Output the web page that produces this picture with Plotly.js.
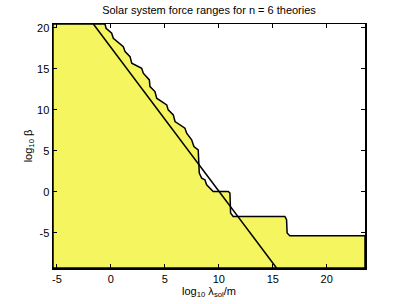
<!DOCTYPE html>
<html>
<head>
<meta charset="utf-8">
<script src="https://cdn.plot.ly/plotly-3.0.1.min.js"></script>
<style>html,body{margin:0;padding:0;background:#fff;}#chart{width:403px;height:304px;}</style>
</head>
<body>
<div id="chart"></div>
<script>
// Axis limits (log10 lambda_sol / m, log10 beta)
var xLimits = [-5.37, 23.55];
var yLimits = [-9.27, 20.48];

// Allowed-region boundary (staircase)
var boundaryX = [-0.55, -0.45, 0.07, 0.22, 1.15, 1.31, 1.77, 1.93, 2.85, 3.0, 3.56, 3.62, 4.08, 4.24, 5.17, 5.31, 5.78, 5.94, 6.86, 7.02, 7.48, 7.69, 8.09, 8.19, 8.41, 8.71, 8.87, 9.48, 10.87, 11.03, 11.09, 11.33, 16.12, 16.28, 16.33, 16.58, 23.55];
var boundaryY = [20.48, 19.96, 19.35, 18.74, 17.72, 17.11, 16.5, 15.7, 15.09, 14.48, 13.66, 12.85, 12.24, 11.43, 10.62, 10.01, 9.4, 8.59, 7.78, 7.17, 6.36, 5.54, 5.14, 2.3, 1.69, 1.49, 0.88, 0.06, 0.06, -0.13, -2.57, -2.98, -2.98, -3.39, -5.0, -5.33, -5.33];

// Straight diagonal line
var lineX = [-1.63, 15.35];
var lineY = [20.48, -9.27];

var tickX = [-5, 0, 5, 10, 15, 20];
var tickY = [-5, 0, 5, 10, 15, 20];

// closed polygon: left-bottom corner -> left-top -> staircase -> right-bottom
var polyX = [xLimits[0], xLimits[0]].concat(boundaryX).concat([xLimits[1], xLimits[0]]);
var polyY = [yLimits[0], yLimits[1]].concat(boundaryY).concat([yLimits[0], yLimits[0]]);

var traces = [
  {x: polyX, y: polyY, type: 'scatter', mode: 'lines', fill: 'toself',
   fillcolor: '#f5f55f', line: {color: '#000', width: 1.5}, hoverinfo: 'skip', showlegend: false},
  {x: lineX, y: lineY, type: 'scatter', mode: 'lines',
   line: {color: '#000', width: 1.5}, hoverinfo: 'skip', showlegend: false}
];

var axisCommon = {
  showgrid: false, zeroline: false, showline: true, linecolor: '#000', linewidth: 1.5,
  mirror: 'ticks', ticks: 'inside', ticklen: 4, tickwidth: 1, tickcolor: '#000',
  tickfont: {family: 'Liberation Sans, Arial, sans-serif', size: 11, color: '#000'}
};

var layout = {
  width: 403, height: 304,
  margin: {l: 53, r: 38, t: 24, b: 36, pad: 0},
  paper_bgcolor: '#fff', plot_bgcolor: '#fff',
  font: {family: 'Liberation Sans, Arial, sans-serif', size: 11, color: '#000'},
  title: {text: 'Solar system force ranges for n = 6 theories', x: 0.5, xref: 'paper', xanchor: 'center',
          y: 0.965, yref: 'container', yanchor: 'middle',
          font: {family: 'Liberation Sans, Arial, sans-serif', size: 11, color: '#000'}},
  xaxis: Object.assign({}, axisCommon, {
    range: xLimits, tickvals: tickX, ticktext: tickX.map(String),
    title: {text: 'log<sub>10</sub> λ<sub>sol</sub>/m', standoff: 2,
            font: {family: 'Liberation Sans, Arial, sans-serif', size: 11, color: '#000'}}
  }),
  yaxis: Object.assign({}, axisCommon, {
    range: yLimits, tickvals: tickY, ticktext: tickY.map(String),
    title: {text: 'log<sub>10</sub> β', standoff: 2,
            font: {family: 'Liberation Sans, Arial, sans-serif', size: 11, color: '#000'}}
  }),
  showlegend: false
};

Plotly.newPlot('chart', traces, layout, {staticPlot: true, displayModeBar: false});
</script>
</body>
</html>
